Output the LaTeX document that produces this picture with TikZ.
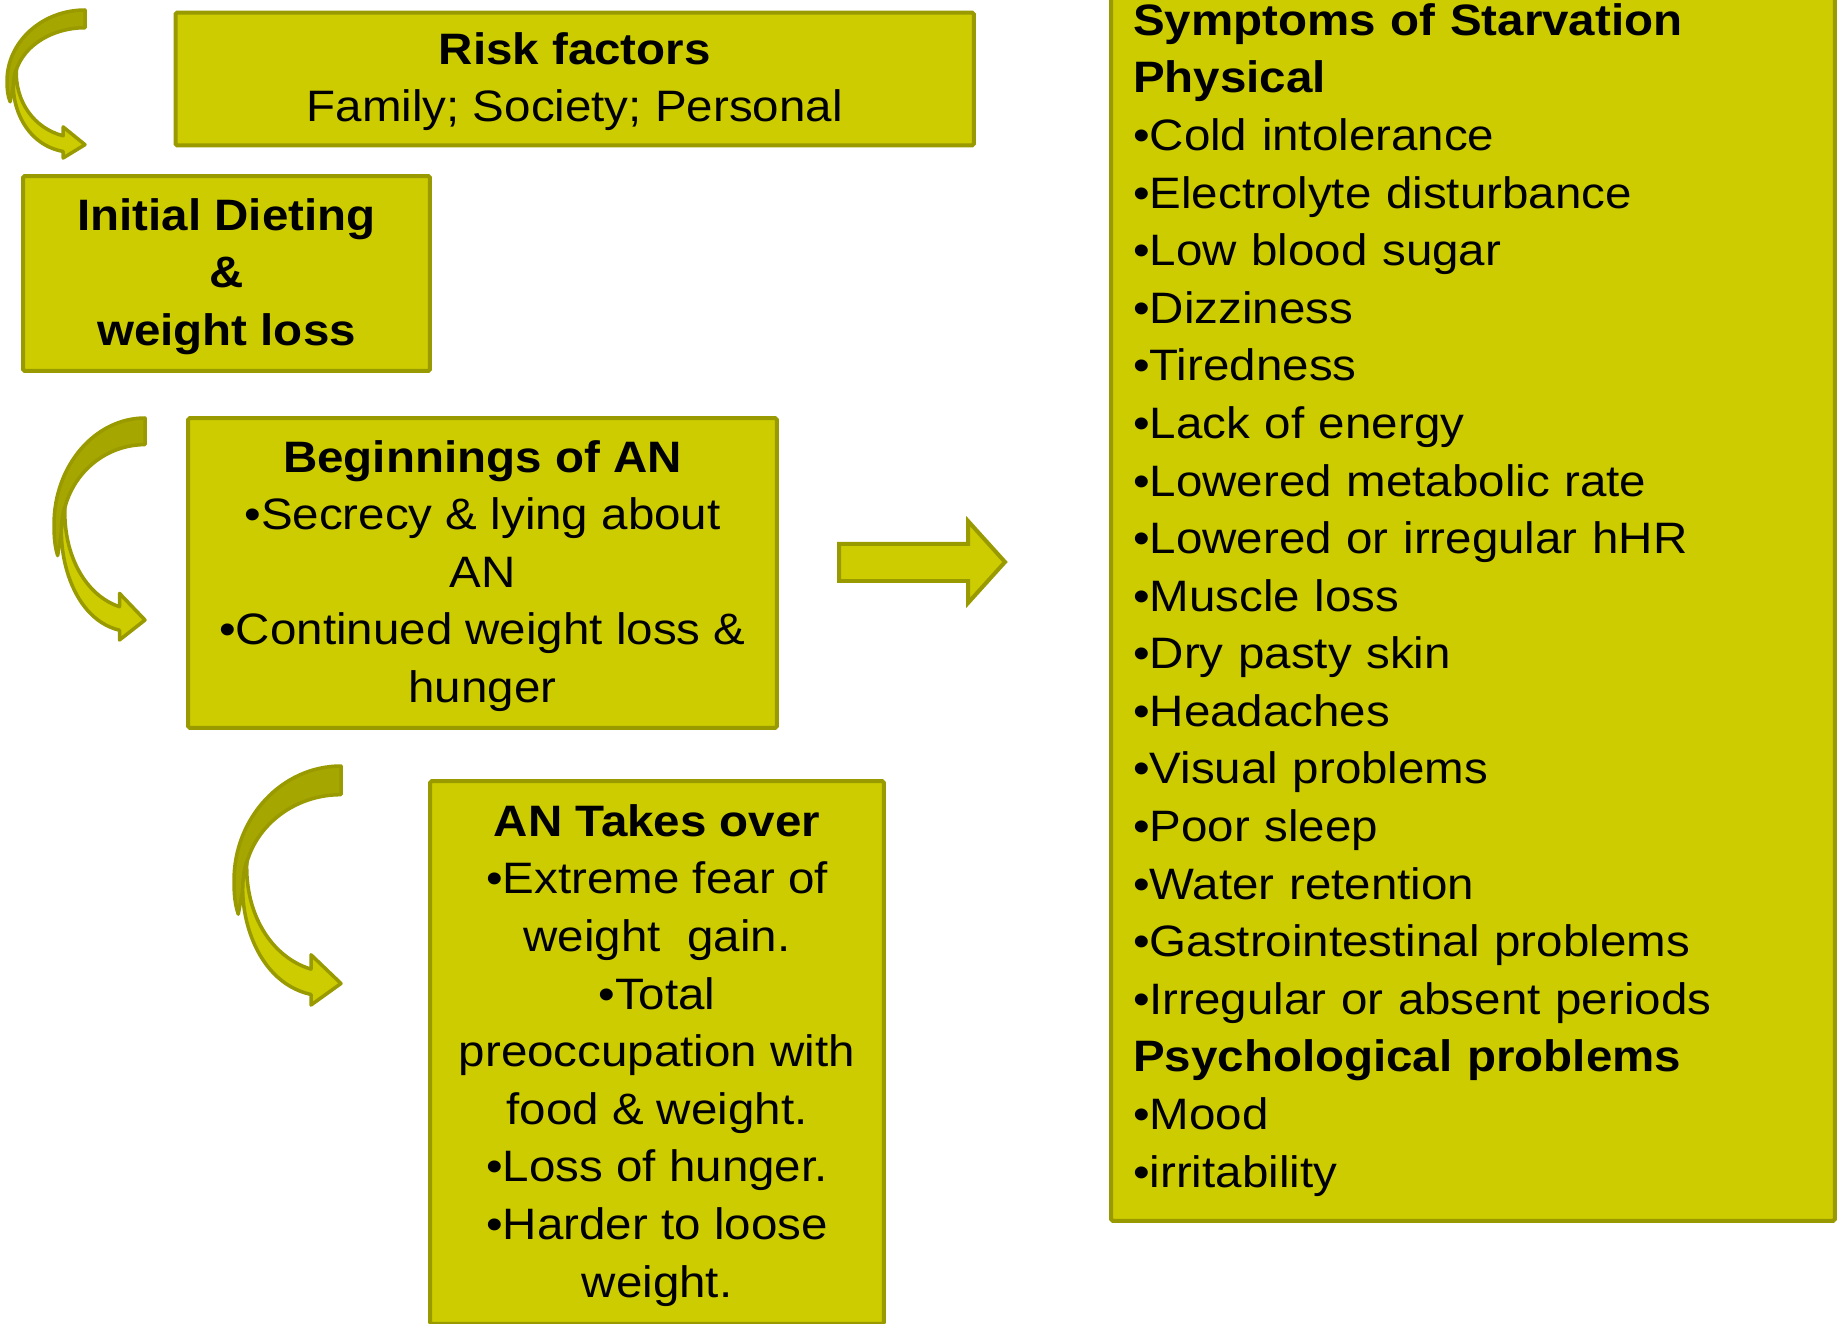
\documentclass[tikz,border=0pt]{standalone}
\usepackage{fontspec}
\setmainfont[FakeStretch=1.08]{Liberation Sans}
\definecolor{anfill}{HTML}{CCCC00}
\definecolor{anline}{HTML}{999900}
\definecolor{anback}{HTML}{A6A600}
\newcommand{\st}{\rule[-8.31pt]{0pt}{32.78pt}}
\tikzset{
  basic/.style = {draw=anline, fill=anfill, line width=0.08cm, rounded corners=1pt,
                  inner sep=0pt, font=\fontsize{25.04pt}{32.78pt}\selectfont, rectangle},
  stage/.style = {basic, align=center},
  list/.style  = {basic, align=left, inner xsep=0.44cm, text width=13.6cm},
  band/.style  = {draw=anline, line width=0.07cm, line join=round}
}

\begin{document}
\begin{tikzpicture}[x=0.02cm, y=-0.02cm]
\useasboundingbox (0,0) rectangle (1837,1324);
\clip (0,0) rectangle (1837,1324);

% the stages, top to bottom
\node[stage, minimum width=15.97cm, minimum height=2.66cm] (risk) at (574.7,79)
  {\st\textbf{Risk factors}\\\st Family; Society; Personal};
\node[stage, minimum width=8.14cm, minimum height=3.9cm] (dieting) at (226.5,273.5)
  {\st\textbf{Initial Dieting}\\\st\textbf{\&}\\\st\textbf{weight loss}};
\node[stage, minimum width=11.78cm, minimum height=6.2cm] (begin) at (482.5,573)
  {\st\textbf{Beginnings of AN}\\\st•Secrecy \& lying about\\\st AN\\
   \st•Continued weight loss \&\\\st hunger};
\node[stage, minimum width=9.08cm, minimum height=10.86cm] (takes) at (657,1052.5)
  {\st\textbf{AN Takes over}\\\st•Extreme fear of\\\st weight\ \ gain.\\\st•Total\\
   \st preoccupation with\\\st food \& weight.\\\st•Loss of hunger.\\
   \st•Harder to loose\\\st weight.};

% the list of symptoms
\node[list, minimum height=24.96cm] (symptoms) at (1473,597)
  {\st\textbf{Symptoms of Starvation}\\\st\textbf{Physical}\\
   \st•Cold intolerance\\\st•Electrolyte disturbance\\\st•Low blood sugar\\
   \st•Dizziness\\\st•Tiredness\\\st•Lack of energy\\\st•Lowered metabolic rate\\
   \st•Lowered or irregular hHR\\\st•Muscle loss\\\st•Dry pasty skin\\
   \st•Headaches\\\st•Visual problems\\\st•Poor sleep\\\st•Water retention\\
   \st•Gastrointestinal problems\\\st•Irregular or absent periods\\
   \st\textbf{Psychological problems}\\\st•Mood\\\st•irritability};

% block arrow towards the symptoms
\draw[band, line width=0.08cm, line join=miter, fill=anfill]
  (839,544) -- (968,544) -- (968,521) -- (1005,562) -- (968,603)
  -- (968,581) -- (839,581) -- cycle;

% curved arrows on the left of each stage
\foreach \x/\y/\w/\h in {7/10/78/148, 54/418/91/222, 234/766/107/239}
{
  \begin{scope}[shift={(\x,\y)}, xscale=\w, yscale=\h]
    \draw[band, fill=anback] (1,0) .. controls (0.45,0) and (0,0.215) .. (0,0.48)
      .. controls (0,0.54) and (0.01,0.58) .. (0.04,0.62) -- (0.09,0.5)
      .. controls (0.09,0.29) and (0.5,0.12) .. (1,0.12) -- cycle;
    \draw[band, fill=anfill] (0.12,0.40) .. controls (0,0.55) and (0.15,0.90) .. (0.72,0.956)
      -- (0.72,1) -- (1,0.91) -- (0.72,0.79) -- (0.72,0.85)
      .. controls (0.35,0.80) and (0.10,0.62) .. (0.12,0.40) -- cycle;
  \end{scope}
}
\end{tikzpicture}
\end{document}
